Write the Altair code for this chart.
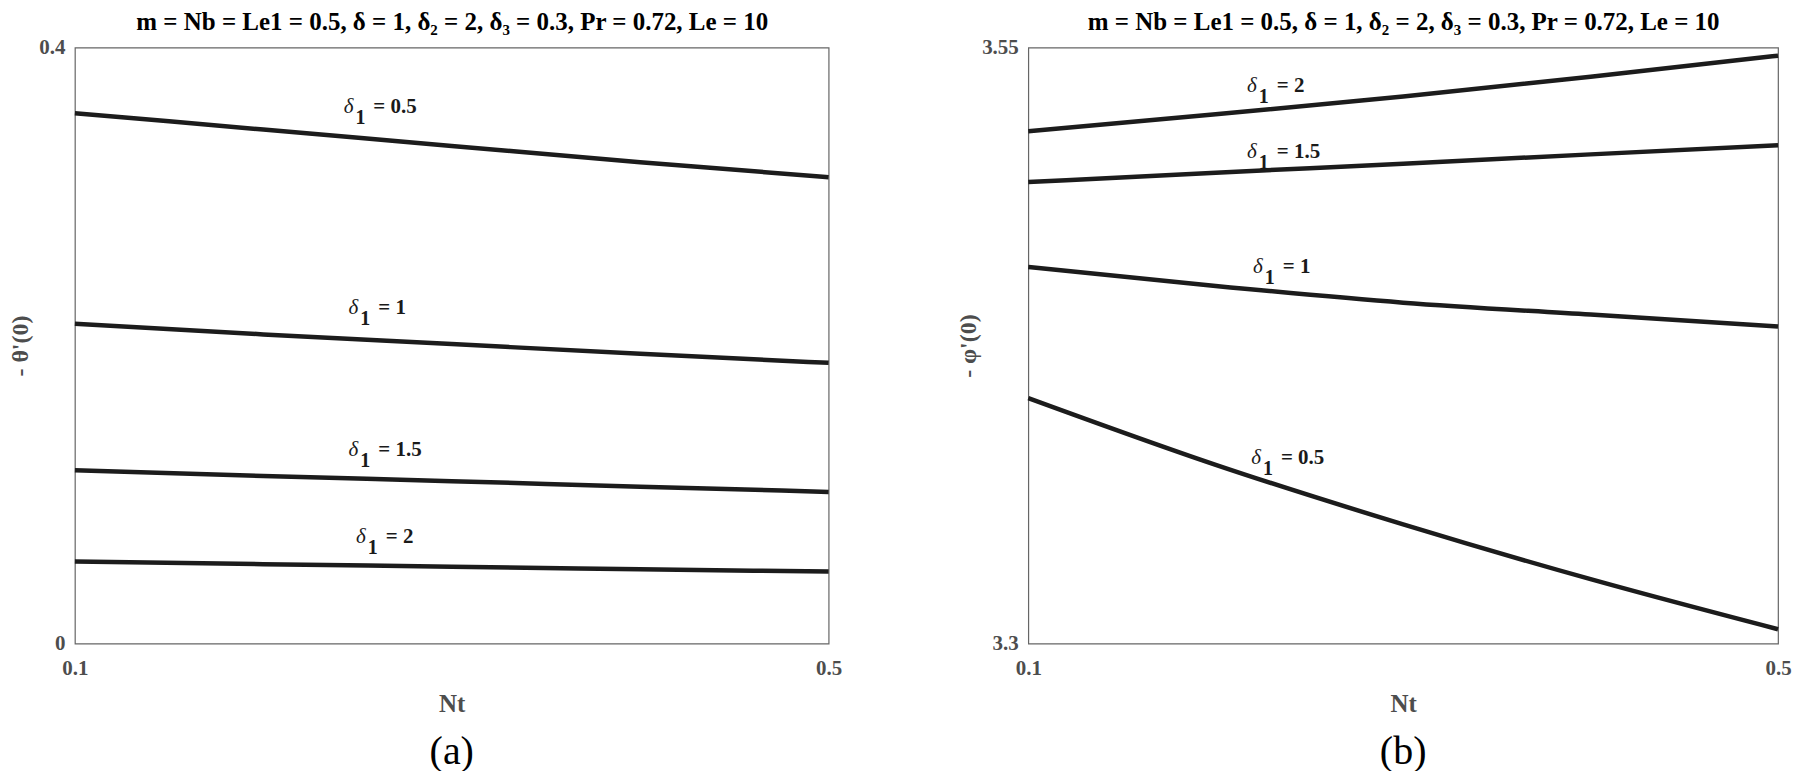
import altair as alt
import pandas as pd

FONT = "Liberation Serif"

# ---------------- data ----------------
nt = [0.1, 0.2, 0.3, 0.4, 0.5]
delta1 = ["0.5", "1", "1.5", "2"]

# panel (a): -theta'(0)
theta_d05 = [0.356, 0.345, 0.334, 0.323, 0.313]
theta_d1 = [0.2147, 0.2075, 0.2010, 0.1945, 0.1884]
theta_d15 = [0.1164, 0.1125, 0.1090, 0.1053, 0.1018]
theta_d2 = [0.0551, 0.0533, 0.0516, 0.0499, 0.0483]

# panel (b): -phi'(0)
phi_d05 = [3.403, 3.375, 3.350, 3.327, 3.306]
phi_d1 = [3.458, 3.450, 3.443, 3.438, 3.433]
phi_d15 = [3.4936, 3.4975, 3.5013, 3.5052, 3.5090]
phi_d2 = [3.5149, 3.5220, 3.5295, 3.5378, 3.5466]

# curve labels (position of the "=" sign)
label_text = ["= 0.5", "= 1", "= 1.5", "= 2"]
a_label_nt = [0.2584, 0.261, 0.261, 0.265]
a_label_val = [0.3598, 0.2251, 0.130, 0.0717]
b_label_nt = [0.2348, 0.2358, 0.2326, 0.2326]
b_label_val = [3.378, 3.458, 3.506, 3.534]

a_ticks_y = [0, 0.4]
b_ticks_y = [3.3, 3.55]
x_ticks = [0.1, 0.5]

top_text = "m = Nb = Le1 = 0.5,  δ = 1, δ₂ = 2, δ₃ = 0.3, Pr = 0.72, Le = 10"

H = 597
WA = 755
WB = 751
LINE_COLOR = "#1c1c1c"
TXT = "#1a1a1a"


def long_df(series):
    rows = []
    for d, vals in zip(delta1, series):
        for x, v in zip(nt, vals):
            rows.append({"Nt": x, "val": v, "d1": d})
    return pd.DataFrame(rows)


lines_a = long_df([theta_d05, theta_d1, theta_d15, theta_d2])
lines_b = long_df([phi_d05, phi_d1, phi_d15, phi_d2])
labels_a = pd.DataFrame({"Nt": a_label_nt, "val": a_label_val, "eq": label_text})
labels_b = pd.DataFrame({"Nt": b_label_nt, "val": b_label_val, "eq": label_text})


def make_panel(ldf, labdf, ydom, yticks, ytitle, title_x, width, bottom_text):
    xenc = alt.X(
        "Nt:Q",
        scale=alt.Scale(domain=[0.1, 0.5], nice=False, zero=False),
        axis=alt.Axis(values=x_ticks, format="~g", title="Nt", labelFlush=False,
                      labelPadding=14, titleX=width / 2, titleY=60,
                      titleBaseline="middle", titleFontSize=25),
    )
    yenc = alt.Y(
        "val:Q",
        scale=alt.Scale(domain=ydom, nice=False, zero=False),
        axis=alt.Axis(values=yticks, format="~g", title=ytitle, labelFlush=False,
                      labelPadding=10, titleX=title_x, titleY=H / 2,
                      titleBaseline="middle", titleFontSize=24),
    )
    lines = alt.Chart(ldf).mark_line(
        color=LINE_COLOR, strokeWidth=4.5, interpolate="monotone"
    ).encode(x=xenc, y=yenc, detail="d1:N")

    base = alt.Chart(labdf).encode(x=alt.X("Nt:Q"), y=alt.Y("val:Q"))
    eq = base.mark_text(align="left", baseline="middle", font=FONT, fontSize=21,
                        fontWeight="bold", color=TXT).encode(text="eq:N")
    dl = base.mark_text(align="right", baseline="middle", dx=-20, font=FONT,
                        fontSize=21, fontStyle="italic", color=TXT).encode(
        text=alt.value("δ"))
    sub = base.mark_text(align="right", baseline="middle", dx=-8, dy=11, font=FONT,
                         fontSize=20, fontWeight="bold", color=TXT).encode(
        text=alt.value("1"))
    plot = alt.layer(lines, eq, dl, sub)

    # invisible layer carrying a top axis whose title is the parameter line
    top = alt.Chart(ldf).mark_line(opacity=0).encode(
        x=alt.X("Nt:Q",
                axis=alt.Axis(orient="top", title=top_text, labels=False,
                              titleFontSize=25, titleColor="black",
                              titlePadding=13)),
        y=alt.Y("val:Q"),
        detail="d1:N",
    )
    return alt.layer(plot, top).resolve_axis(x="independent").properties(
        width=width, height=H,
        title=alt.Title(bottom_text, orient="bottom", font=FONT, fontSize=40,
                        fontWeight="normal", color="black", anchor="middle",
                        frame="group", offset=16),
    )


panel_a = make_panel(lines_a, labels_a, [0, 0.4], a_ticks_y, "- θ'(0)", -54, WA, "(a)")
panel_b = make_panel(lines_b, labels_b, [3.3, 3.55], b_ticks_y, "- φ'(0)", -60, WB, "(b)")

chart = (
    alt.hconcat(panel_a, panel_b, spacing=113)
    .properties(padding=0, background="white")
    .configure_view(stroke="#666666", strokeWidth=1.2)
    .configure_axis(
        domain=False, ticks=False, grid=False, labelOverlap=False,
        labelFont=FONT, labelFontSize=21, labelFontWeight="bold", labelColor="#4d4d4d",
        titleFont=FONT, titleFontWeight="bold", titleColor="#4d4d4d",
    )
)

chart.save("out.html", embed_options={"renderer": "svg", "actions": False})
